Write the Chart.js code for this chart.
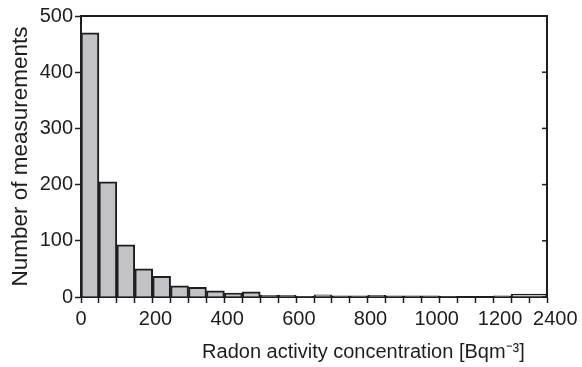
<!DOCTYPE html>
<html>
<head>
<meta charset="utf-8">
<style>
  html, body { margin: 0; padding: 0; background: #fff; }
  #wrap { width: 582px; height: 367px; }
</style>
<script src="https://cdn.jsdelivr.net/npm/chart.js@4/dist/chart.umd.min.js"></script>
</head>
<body>
<div id="wrap"><canvas id="histo" width="582" height="367"></canvas></div>
<script>
/* Radon histogram – bins of 50 Bq/m3 up to 1200, then one wide bin 1200–2400 */

const binStart = [0, 50, 100, 150, 200, 250, 300, 350, 400, 450, 500, 550,
                  600, 650, 700, 750, 800, 850, 900, 950, 1000, 1050, 1100, 1150, 1200];
const binEnd   = [50, 100, 150, 200, 250, 300, 350, 400, 450, 500, 550, 600,
                  650, 700, 750, 800, 850, 900, 950, 1000, 1050, 1100, 1150, 1200, 2400];
const counts   = [470, 205, 93, 50, 37, 20, 17, 11, 7, 9, 3, 3,
                  1, 4, 2, 2, 3, 2, 2, 2, 1, 0, 0, 2, 5];
// each bin takes one slot on the axis, the last one takes two
const binSlots = [1, 1, 1, 1, 1, 1, 1, 1, 1, 1, 1, 1,
                  1, 1, 1, 1, 1, 1, 1, 1, 1, 1, 1, 1, 2];
const tickValues = [0, 200, 400, 600, 800, 1000, 1200, 2400];
const yTicks     = [0, 100, 200, 300, 400, 500];

const INK  = "#1e1e1e";
const FILL = "#c3c3c7";
const FONT = "'Liberation Sans', Arial, Helvetica, sans-serif";

/* ── slot layout built from the bins ─────────────────────────── */
const points = [];       // {x, y, part}
const edgeLabel = {};    // slot index -> label for bin edges
let slot = 0;
binStart.forEach((s, i) => {
  edgeLabel[slot] = s;
  const n = binSlots[i];
  for (let k = 0; k < n; k++) {
    const part = n === 1 ? "single" : (k === 0 ? "first" : (k === n - 1 ? "last" : "mid"));
    points.push({ x: slot + k + 0.5, y: counts[i], part });
  }
  slot += n;
  edgeLabel[slot] = binEnd[i];
});
const totalSlots = slot;

function borderFor(part) {
  const w = 2;
  if (part === "first") return { top: w, left: w, right: 0, bottom: 0 };
  if (part === "last")  return { top: w, left: 0, right: w, bottom: 0 };
  if (part === "mid")   return { top: w, left: 0, right: 0, bottom: 0 };
  return { top: w, left: w, right: w, bottom: 0 };
}

// nudge crowded labels apart the way the original typesetting did
function tickText(v) {
  const val = edgeLabel[v];
  if (!tickValues.includes(val)) return "";
  const s = String(val);
  if (val === 2400) return "   " + s;
  if (val === 1200) return s + "    ";
  if (val === 1000) return s + " ";
  if (val === 0) return s;
  return " " + s;
}

/* ── frame + inward ticks on top/right ───────────────────────── */
const framePlugin = {
  id: "frame",
  afterDatasetsDraw(chart) {
    const { ctx, chartArea: a, scales } = chart;
    ctx.save();
    ctx.strokeStyle = INK;
    ctx.lineWidth = 2;
    ctx.beginPath();
    ctx.moveTo(a.left, a.top);
    ctx.lineTo(a.right, a.top);
    ctx.lineTo(a.right, a.bottom);
    ctx.stroke();
    ctx.lineWidth = 1.5;
    yTicks.forEach(v => {
      const py = scales.y.getPixelForValue(v);
      ctx.beginPath();
      ctx.moveTo(a.right, py);
      ctx.lineTo(a.right - 5, py);
      ctx.stroke();
    });
    ctx.restore();
  },
};

new Chart(document.getElementById("histo"), {
  type: "bar",
  data: {
    datasets: [{
      data: points,
      backgroundColor: FILL,
      borderColor: INK,
      borderWidth: ctx => borderFor(ctx.raw ? ctx.raw.part : "single"),
      borderSkipped: false,
      barPercentage: 1,
      categoryPercentage: 1,
    }],
  },
  options: {
    responsive: false,
    animation: false,
    layout: { padding: { top: 16, right: 35, left: 0, bottom: 0 } },
    plugins: { legend: { display: false }, tooltip: { enabled: false } },
    scales: {
      x: {
        type: "linear",
        min: 0,
        max: totalSlots,
        offset: false,
        afterFit: s => { s.height = 70; s.paddingRight = 0; },
        afterBuildTicks: s => {
          s.ticks = [];
          for (let i = 0; i <= totalSlots; i++) s.ticks.push({ value: i });
        },
        ticks: {
          autoSkip: false,
          maxRotation: 0,
          padding: 4,
          color: INK,
          font: { family: FONT, size: 20 },
          callback: tickText,
        },
        grid: { offset: false, drawOnChartArea: false, drawTicks: true, tickLength: 6, tickWidth: 1.5, tickColor: INK },
        border: { display: true, color: INK, width: 2 },
        title: {
          display: true,
          align: "end",
          text: "Radon activity concentration [Bqm\u207B\u00B3]    ",
          color: INK,
          font: { family: FONT, size: 20 },
          padding: { top: 0, bottom: 3 },
        },
      },
      y: {
        min: 0,
        max: 500,
        afterFit: s => { s.width = 81; },
        afterBuildTicks: s => { s.ticks = yTicks.map(v => ({ value: v })); },
        ticks: {
          padding: 2,
          color: INK,
          font: { family: FONT, size: 20 },
        },
        grid: { drawOnChartArea: false, drawTicks: true, tickLength: 6, tickWidth: 1.5, tickColor: INK },
        border: { display: true, color: INK, width: 2 },
        title: {
          display: true,
          text: "Number of measurements",
          color: INK,
          font: { family: FONT, size: 22.5 },
          padding: { top: 7, bottom: 0 },
        },
      },
    },
  },
  plugins: [framePlugin],
});
</script>
</body>
</html>
